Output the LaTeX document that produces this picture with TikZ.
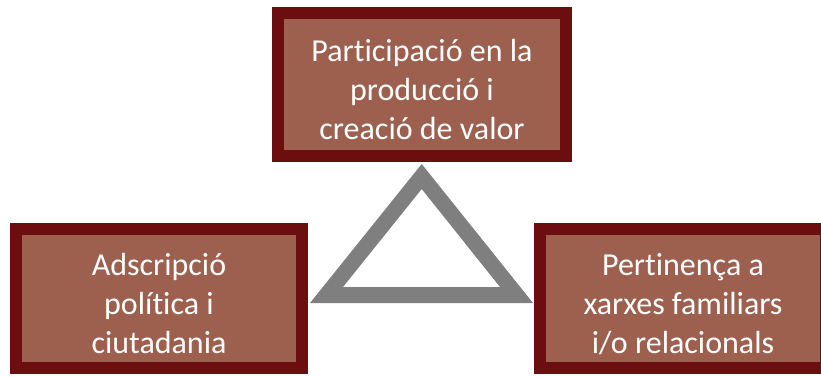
\documentclass[tikz,border=0pt]{standalone}
\usepackage{fontspec}
\setmainfont{Carlito}[Ligatures=NoCommon]
\usepackage{xcolor}
\usetikzlibrary{
		calc,
		positioning
	}
\definecolor{boxborder}{HTML}{6C0D10}
\definecolor{boxfill}{HTML}{9D604F}
\definecolor{trigray}{HTML}{7F7F7F}
\tikzset{
		>=stealth
	}
\newcommand{\uprule}{\rule{0pt}{40pt}}
\newcommand{\downrule}{\rule[-8pt]{0pt}{8pt}}

\begin{document}
\begin{tikzpicture}[x=1pt, y=1pt, square/.style={draw=boxborder, line width=12pt, fill=boxfill, text=white, align=center, inner sep=0pt, font=\fontsize{32}{39}\selectfont}]
	\useasboundingbox (0,0) rectangle (821,376);
	\node[square, minimum width=288pt, minimum height=143pt] (b1) at (422,291.5) {\uprule Participació en la\\producció i\\creació de valor\downrule};
	\node[square, minimum width=286pt, minimum height=139pt] (b2) at (159,77.5) {\uprule Adscripció\\política i\\ciutadania\downrule};
	\node[square, minimum width=286pt, minimum height=139pt] (b3) at (683,77.5) {\uprule Pertinença a\\xarxes familiars\\i/o relacionals\downrule};
	\fill[trigray, even odd rule] (310,73) -- (421.7,212) -- (533,73) -- cycle (343,89) -- (421.7,187) -- (500,89) -- cycle; % triangle in the middle
\end{tikzpicture}
\end{document}
